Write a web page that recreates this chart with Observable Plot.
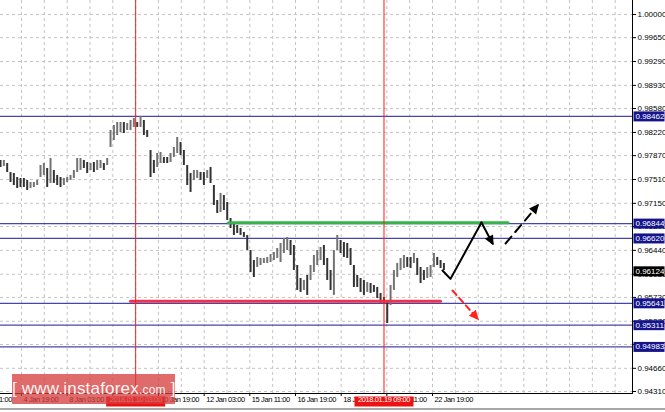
<!DOCTYPE html>
<html><head><meta charset="utf-8">
<script src="https://cdn.jsdelivr.net/npm/d3@7"></script>
<script src="https://cdn.jsdelivr.net/npm/@observablehq/plot@0.6"></script>
<style>
body{margin:0;background:#fff;font-family:"Liberation Sans",Arial,sans-serif;}
#wrap{position:relative;width:665px;height:412px;overflow:hidden;background:#fff;}
#wm{position:absolute;left:12px;top:374px;width:163px;height:30px;background:rgba(214,60,60,0.76);color:rgba(255,255,255,0.95);font-family:"Liberation Sans",Arial,sans-serif;font-size:17px;line-height:30px;white-space:nowrap;text-align:center;letter-spacing:0.2px;}
#wm span{font-size:12px;}
#bl{position:absolute;left:0;top:408px;width:665px;height:2px;background:#a8a8a8;}
.xl text{letter-spacing:-0.4px;}
</style></head>
<body><div id="wrap"><div id="chart"></div><div id="wm">[&nbsp;www.instaforex<span>.com</span>&nbsp;]</div><div id="bl"></div></div>
<script>
// ---- data (H1 bars, sampled) ----
const hi = [0.97797,0.97797,0.97751,0.97615,0.97600,0.97540,0.97525,0.97525,0.97495,0.97465,
0.97465,0.97495,0.97721,0.97751,0.97676,0.97827,0.97646,0.97570,0.97540,0.97525,
0.97540,0.97570,0.97646,0.97827,0.97827,0.97797,0.97766,0.97751,0.97766,0.97797,
0.97797,0.97751,0.97827,0.98249,0.98325,0.98370,0.98370,0.98370,0.98355,0.98400,
0.98430,0.98370,0.98461,0.98400,0.98249,0.97947,0.97797,0.97902,0.97917,0.97842,
0.97842,0.97902,0.97993,0.98144,0.98068,0.97947,0.97721,0.97600,0.97646,0.97646,
0.97615,0.97615,0.97646,0.97691,0.97419,0.97193,0.97299,0.97268,0.97163,0.96921,
0.96846,0.96816,0.96770,0.96710,0.96665,0.96438,0.96287,0.96333,0.96318,0.96318,
0.96333,0.96378,0.96408,0.96469,0.96544,0.96620,0.96635,0.96589,0.96514,0.96212,
0.96016,0.95986,0.96061,0.96212,0.96363,0.96438,0.96484,0.96514,0.96318,0.96136,
0.96438,0.96665,0.96589,0.96559,0.96544,0.96469,0.96212,0.96061,0.96016,0.95986,
0.95956,0.95940,0.95910,0.95880,0.95790,0.95729,0.95684,0.95910,0.96136,0.96242,
0.96318,0.96363,0.96333,0.96333,0.96393,0.96318,0.96182,0.96136,0.96182,0.96212,
0.96393,0.96333,0.96287,0.96242];
const lo = [0.97691,0.97706,0.97615,0.97465,0.97419,0.97374,0.97389,0.97389,0.97344,0.97374,
0.97389,0.97419,0.97540,0.97570,0.97389,0.97450,0.97450,0.97419,0.97389,0.97419,
0.97465,0.97495,0.97525,0.97615,0.97646,0.97676,0.97600,0.97646,0.97615,0.97646,
0.97676,0.97646,0.97721,0.97993,0.98098,0.98174,0.98219,0.98204,0.98249,0.98249,
0.98295,0.98295,0.98295,0.98174,0.98144,0.97540,0.97600,0.97691,0.97751,0.97751,
0.97751,0.97766,0.97842,0.97902,0.97872,0.97721,0.97419,0.97314,0.97495,0.97525,
0.97495,0.97419,0.97525,0.97450,0.97117,0.96997,0.97012,0.97042,0.96891,0.96770,
0.96665,0.96695,0.96665,0.96635,0.96438,0.96106,0.96031,0.96182,0.96212,0.96242,
0.96242,0.96257,0.96287,0.96318,0.96257,0.96393,0.96438,0.96363,0.96136,0.95835,
0.95805,0.95835,0.95760,0.95986,0.96106,0.96212,0.96287,0.96212,0.95986,0.95835,
0.95760,0.96438,0.96393,0.96333,0.96318,0.96212,0.95880,0.95880,0.95805,0.95760,
0.95805,0.95790,0.95805,0.95714,0.95639,0.95639,0.95336,0.95609,0.95835,0.96031,
0.96136,0.96167,0.96182,0.96167,0.96242,0.96061,0.95940,0.95986,0.96016,0.96031,
0.96182,0.96212,0.96167,0.96136];
const firstSampleHour = 17.3;   // hour index of first visible sample (0 = 3 Jan 11:00)
const hoursPerSample = 2.336;

// time axis (hour index, label)
const tickHours = [0,32,64,96,128,160,192,224,256,288,320];
const tickLabels = ["3 Jan 11:00","4 Jan 19:00","8 Jan 03:00","9 Jan 11:00","10 Jan 19:00","12 Jan 03:00","15 Jan 11:00","16 Jan 19:00","18 Jan 03:00","19 Jan 11:00","22 Jan 19:00"];
const gridHours = [32,48,64,80,96,112,128,144,160,176,192,208,224,240,256,272,288,304,320,336,352,368,384,400,416,432,448];
const hourDomain = [17.29, 460.13];

// price axis
const priceTicks = [1.00000,0.99650,0.99290,0.98930,0.98580,0.98220,0.97870,0.97510,0.97150,0.96800,0.96440,0.96080,0.95730,0.95370,0.95020,0.94660,0.94310];
const priceDomain = [0.94280, 1.00211];

// levels
const levels = [0.98462, 0.96844, 0.96620, 0.95641, 0.95311, 0.94983];
const currentPrice = [0.96124];
const markerHours = [112, 286];
const markerLabels = ["2018.01.10 03:00", "2018.01.19 09:00"];
const resistance = [{h: 177, p: 0.96858}, {h: 373, p: 0.96858}];
const support = [{h: 108.4, p: 0.95672}, {h: 325.6, p: 0.95672}];

// forecast arrows
const pathSolid = [{h: 327.0, p: 0.96136}, {h: 332.6, p: 0.96010}, {h: 354.3, p: 0.96861}];
const arrowDown = [{h: 354.3, p: 0.96861}, {h: 362.1, p: 0.96544}];
const arrowUpDashed = [{h: 371.2, p: 0.96544}, {h: 393.6, p: 0.97117}];
const arrowRedDashed = [{h: 334.0, p: 0.95835}, {h: 351.5, p: 0.95412}];

// ---- build ----
const bars = hi.map((v, i) => ({
  h: firstSampleHour + i * hoursPerSample,
  hi: v, lo: lo[i],
  c: i > 0 && (v + lo[i]) > (hi[i-1] + lo[i-1]) ? "#737373" : "#333333"
}));

function filledArrow(color) {
  const ns = "http://www.w3.org/2000/svg";
  const m = document.createElementNS(ns, "marker");
  m.setAttribute("viewBox", "-5 -5 10 10");
  m.setAttribute("markerWidth", 5.5);
  m.setAttribute("markerHeight", 5.5);
  m.setAttribute("refX", 3);
  m.setAttribute("orient", "auto");
  const p = document.createElementNS(ns, "path");
  p.setAttribute("d", "M-4,-4.2L5,0L-4,4.2Z");
  p.setAttribute("fill", color);
  p.setAttribute("stroke", "none");
  p.setAttribute("stroke-dasharray", "none");
  m.appendChild(p);
  return m;
}
const rectSymbol = (w, h) => ({draw(ctx) { ctx.rect(-w / 2, -h / 2, w, h); }});

const fmt = d3.format(".5f");
const navyLine = "#4646aa";
const navyBox = "#14148c";

const plot = Plot.plot({
  width: 665, height: 412,
  marginLeft: 0, marginRight: 33, marginTop: 0, marginBottom: 19,
  style: {fontFamily: "Liberation Sans, Arial, sans-serif", fontSize: "8px", background: "white", color: "black"},
  x: {domain: hourDomain, axis: "bottom", ticks: tickHours.filter(h => h >= hourDomain[0]), tickFormat: () => "", tickSize: 3, line: true, label: null},
  y: {domain: priceDomain, axis: "right", ticks: priceTicks, tickFormat: fmt, tickSize: 3, tickPadding: 2, line: true, label: null},
  marks: [
    Plot.ruleY(priceTicks, {stroke: "#c4c4c4", strokeDasharray: "3,3", strokeWidth: 1}),
    Plot.ruleX(gridHours, {stroke: "#c4c4c4", strokeDasharray: "3,3", strokeWidth: 1}),
    Plot.ruleY(levels, {stroke: navyLine, strokeWidth: 1.2}),
    Plot.ruleX(bars, {x: "h", y1: "lo", y2: "hi", stroke: "c", strokeWidth: 2}),
    Plot.line(resistance, {x: "h", y: "p", stroke: "#36b34a", strokeWidth: 3}),
    Plot.line(support, {x: "h", y: "p", stroke: "#ee3448", strokeWidth: 3}),
    Plot.ruleX(markerHours, {stroke: "#ff1a1a", strokeWidth: 1}),
    Plot.line(pathSolid, {x: "h", y: "p", stroke: "black", strokeWidth: 2}),
    Plot.line(arrowDown, {x: "h", y: "p", stroke: "black", strokeWidth: 2, markerEnd: filledArrow}),
    Plot.line(arrowUpDashed, {x: "h", y: "p", stroke: "black", strokeWidth: 2, strokeDasharray: "9,6", markerEnd: filledArrow}),
    Plot.line(arrowRedDashed, {x: "h", y: "p", stroke: "#ff2020", strokeWidth: 2, strokeDasharray: "6,4", markerEnd: filledArrow}),
    // price level boxes on the right axis
    Plot.dot(levels, {y: d => d, frameAnchor: "right", dx: 16.5, symbol: rectSymbol(31, 10), fill: navyBox, stroke: "none"}),
    Plot.text(levels, {y: d => d, frameAnchor: "right", dx: 3, text: d => fmt(d), textAnchor: "start", fill: "white", fontSize: 8}),
    Plot.dot(currentPrice, {y: d => d, frameAnchor: "right", dx: 16.5, symbol: rectSymbol(31, 10), fill: "black", stroke: "none"}),
    Plot.text(currentPrice, {y: d => d, frameAnchor: "right", dx: 3, text: d => fmt(d), textAnchor: "start", fill: "white", fontSize: 8}),
    // time labels
    Plot.text(tickHours, {x: d => d, frameAnchor: "bottom", dy: 8, dx: 2, text: (d, i) => tickLabels[i], textAnchor: "start", fill: "black", fontSize: 7.5, className: "xl"}),
    Plot.dot(markerHours, {x: d => d, frameAnchor: "bottom", dy: 8, symbol: rectSymbol(59, 10), fill: "#ee1111", stroke: "none"}),
    Plot.text(markerHours, {x: d => d, frameAnchor: "bottom", dy: 8, text: (d, i) => markerLabels[i], textAnchor: "middle", fill: "white", fontSize: 7.5, className: "xl"})
  ]
});
document.getElementById("chart").appendChild(plot);
</script>
</body></html>
